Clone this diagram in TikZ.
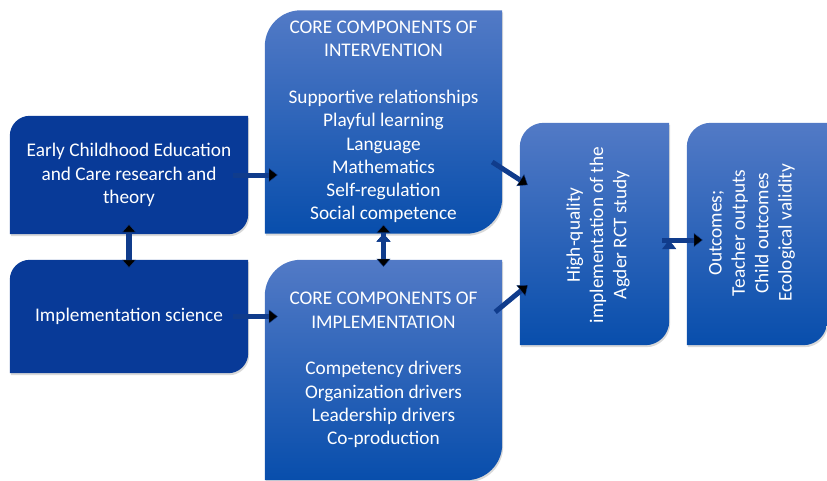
\documentclass[tikz,border=0pt]{standalone}
\usepackage{fontspec}
\setmainfont{Carlito}
\usetikzlibrary{arrows.meta,backgrounds,shadows}

\definecolor{ecblue}{RGB}{8,58,152}
\definecolor{gradtop}{RGB}{82,122,198}
\definecolor{gradmid}{RGB}{22,92,190}
\definecolor{gradbot}{RGB}{8,78,172}
\definecolor{linkblue}{RGB}{16,60,140}

% box with round top left and bottom right corners
\newcommand\diagbox[3]{%
  \path[#3] (#1.south west) -- ([yshift=-#2]#1.north west)
    arc[start angle=180,end angle=90,radius=#2] -- (#1.north east)
    -- ([yshift=#2]#1.south east)
    arc[start angle=0,end angle=-90,radius=#2] -- cycle;}

\begin{document}
\begin{tikzpicture}[x=1pt,y=-1pt,
  box/.style={inner sep=0pt, text=white, align=center,
    font=\fontsize{19.3}{23.3}\selectfont},
  solidfill/.style={fill=ecblue,
    drop shadow={opacity=0.3,shadow xshift=1pt,shadow yshift=-2pt}},
  gradfill/.style={top color=gradtop, middle color=gradmid, bottom color=gradbot,
    drop shadow={opacity=0.3,shadow xshift=1pt,shadow yshift=-2pt}},
  link/.style={draw=linkblue, line width=5pt,
    -{Triangle[width=14pt,length=9pt,line width=0.4pt]}},
  twoway/.style={draw=linkblue, line width=5.5pt,
    {Triangle[width=14pt,length=8pt,line width=0.4pt]}-{Triangle[width=14pt,length=8pt,line width=0.4pt]}}]
\useasboundingbox (0,0) rectangle (827,480);

\node[box, minimum width=238pt, minimum height=118pt] (ecec) at (129,175)
  {Early Childhood Education\\and Care research and\\theory};
\node[box, minimum width=238pt, minimum height=113pt] (impl) at (129,316.5)
  {Implementation science};
\node[box, minimum width=237pt, minimum height=223pt] (coreint) at (383.5,122)
  {CORE COMPONENTS OF\\INTERVENTION\\[23.3pt]Supportive relationships\\Playful learning\\
   Language\\Mathematics\\Self-regulation\\Social competence};
\node[box, minimum width=237pt, minimum height=220pt] (coreimpl) at (383.5,370)
  {CORE COMPONENTS OF\\IMPLEMENTATION\\[23.3pt]Competency drivers\\Organization drivers\\
   Leadership drivers\\Co-production};
\node[box, minimum width=149pt, minimum height=222pt] (hq) at (594.5,234) {};
\node[box, rotate=90] (hq-text) at (598,235)
  {High-quality\\implementation of the\\Agder RCT study};
\node[box, minimum width=140pt, minimum height=222pt] (outcomes) at (757,234) {};
\node[box, rotate=90] (outcomes-text) at (752,233)
  {Outcomes;\\Teacher outputs\\Child outcomes\\Ecological validity};

\begin{scope}[on background layer]
\diagbox{ecec}{20pt}{solidfill}
\diagbox{impl}{20pt}{solidfill}
\diagbox{coreint}{36pt}{gradfill}
\diagbox{coreimpl}{36pt}{gradfill}
\diagbox{hq}{24pt}{gradfill}
\diagbox{outcomes}{24pt}{gradfill}
\end{scope}

\path[link]
(ecec.east) edge[shorten <=-15pt, shorten >=-13pt] (ecec.east -| coreint.west)
(impl.east) edge[shorten <=-15pt, shorten >=-13pt] (impl.east -| coreimpl.west)
([xshift=-10pt,yshift=-40pt]coreint.east) edge ([xshift=8pt,yshift=49pt]hq.west)
([xshift=-7pt,yshift=58pt]coreimpl.east) edge ([xshift=8pt,yshift=-51pt]hq.west)
([yshift=-6pt]hq.east) edge[shorten <=-7pt, shorten >=-16pt] ([yshift=-6pt]outcomes.west)
;
\path[twoway]
(ecec.south) edge[shorten <=-10pt, shorten >=-8pt] (impl.north)
(coreint.south) edge[shorten <=-9pt, shorten >=-7pt] (coreimpl.north)
;
\end{tikzpicture}
\end{document}
